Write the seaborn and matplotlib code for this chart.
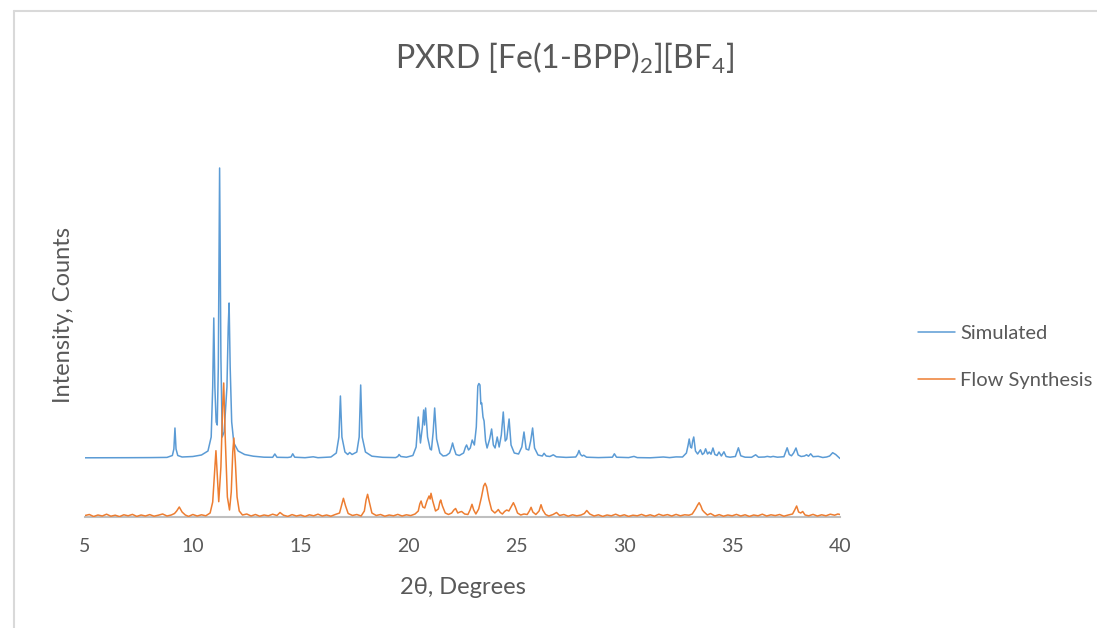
import pandas as pd
import seaborn as sns
import matplotlib.pyplot as plt
from matplotlib.lines import Line2D

sim_2theta = [5.0, 6.0, 7.0, 8.0, 8.8, 9.05, 9.12, 9.17, 9.22, 9.3, 9.5, 10.0, 10.4, 10.7, 10.85, 10.92, 10.97,
              11.02, 11.08, 11.13, 11.18, 11.24, 11.3, 11.36, 11.45, 11.58, 11.64, 11.68, 11.73, 11.8, 11.9,
              12.1, 12.4, 12.8, 13.3, 13.7, 13.8, 13.9, 14.4, 14.55, 14.63, 14.72, 15.2, 15.58, 15.8, 16.4,
              16.65, 16.77, 16.84, 16.91, 17.05, 17.18, 17.27, 17.38, 17.6, 17.71, 17.78, 17.85, 18.0, 18.3,
              18.8, 19.4, 19.5, 19.56, 19.64, 19.9, 20.2, 20.35, 20.45, 20.55, 20.64, 20.7, 20.74, 20.79, 20.88,
              21.0, 21.06, 21.14, 21.21, 21.3, 21.45, 21.6, 21.75, 21.9, 21.98, 22.04, 22.1, 22.2, 22.35, 22.55,
              22.64, 22.69, 22.78, 22.86, 22.95, 23.05, 23.14, 23.21, 23.26, 23.31, 23.35, 23.39, 23.45, 23.5,
              23.57, 23.64, 23.76, 23.85, 23.93, 24.01, 24.11, 24.2, 24.3, 24.39, 24.48, 24.55, 24.6, 24.66,
              24.75, 24.9, 25.1, 25.25, 25.35, 25.45, 25.57, 25.66, 25.75, 25.84, 26.0, 26.2, 26.28, 26.38,
              26.55, 26.71, 26.85, 27.3, 27.75, 27.84, 27.9, 27.97, 28.05, 28.12, 28.25, 28.8, 29.45, 29.54,
              29.64, 30.2, 30.45, 30.6, 31.2, 31.81, 32.1, 32.4, 32.7, 32.88, 32.96, 33.01, 33.07, 33.12, 33.17,
              33.22, 33.3, 33.4, 33.53, 33.62, 33.7, 33.77, 33.86, 33.94, 34.02, 34.11, 34.2, 34.3, 34.39, 34.5,
              34.62, 34.72, 34.9, 35.15, 35.29, 35.4, 35.6, 35.9, 36.09, 36.22, 36.5, 36.63, 36.78, 36.9, 37.1,
              37.4, 37.55, 37.65, 37.75, 37.85, 37.96, 38.06, 38.2, 38.35, 38.45, 38.54, 38.64, 38.75, 38.99,
              39.2, 39.38, 39.52, 39.66, 39.8, 39.9, 40.0]
sim_counts = [592, 592, 593, 594, 596, 615, 680, 890, 680, 615, 600, 605, 620, 660, 800, 1300, 1990,
              1300, 950, 920, 1500, 3490, 1600, 800, 850, 1300, 1900, 2140, 1500, 950, 740,
              660, 625, 608, 598, 597, 630, 597, 595, 600, 632, 598, 593, 602, 593, 600,
              640, 800, 1210, 800, 650, 625, 645, 625, 650, 800, 1320, 800, 650, 608,
              597, 594, 605, 625, 605, 598, 615, 700, 1000, 740, 900, 1070, 920, 1090, 800,
              680, 670, 850, 1090, 780, 640, 610, 615, 640, 690, 740, 690, 625, 615, 640,
              700, 720, 670, 690, 770, 720, 900, 1310, 1335, 1320, 1130, 1140, 1000, 960,
              760, 690, 780, 880, 720, 690, 800, 700, 820, 1050, 760, 780, 870, 980,
              720, 640, 630, 700, 850, 680, 670, 760, 890, 690, 620, 610, 637, 610,
              605, 622, 602, 596, 600, 630, 665, 625, 610, 618, 598, 594, 598, 632,
              598, 594, 606, 594, 592, 600, 594, 601, 600, 640, 720, 780, 700, 690, 760,
              800, 660, 630, 672, 625, 640, 682, 630, 650, 628, 690, 625, 615, 650, 610,
              652, 605, 598, 605, 692, 612, 598, 597, 622, 598, 600, 606, 600, 606, 598,
              603, 692, 625, 612, 640, 690, 620, 605, 610, 622, 608, 632, 603, 607,
              595, 600, 610, 643, 625, 605, 585]

# flow synthesis sample (measured)
flow_2theta = [5.0, 5.2, 5.4, 5.6, 5.8, 6.0, 6.2, 6.4, 6.6, 6.8, 7.0, 7.2, 7.4, 7.6, 7.8, 8.0, 8.2, 8.4, 8.6,
               8.8, 9.0, 9.15, 9.25, 9.37, 9.5, 9.65, 9.8, 10.0, 10.2, 10.4, 10.6, 10.8, 10.92, 11.0, 11.07,
               11.13, 11.2, 11.3, 11.38, 11.43, 11.5, 11.6, 11.7, 11.78, 11.85, 11.9, 11.97, 12.05, 12.15,
               12.3, 12.5, 12.7, 12.9, 13.1, 13.3, 13.5, 13.7, 13.9, 14.04, 14.2, 14.4, 14.6, 14.8, 15.0, 15.2,
               15.4, 15.6, 15.8, 16.0, 16.2, 16.4, 16.6, 16.8, 16.9, 16.98, 17.08, 17.2, 17.4, 17.6, 17.8,
               17.95, 18.03, 18.1, 18.18, 18.3, 18.5, 18.7, 18.9, 19.1, 19.3, 19.5, 19.7, 19.9, 20.1, 20.3,
               20.45, 20.52, 20.58, 20.66, 20.75, 20.85, 20.95, 21.0, 21.04, 21.12, 21.25, 21.38, 21.45, 21.49,
               21.57, 21.7, 21.85, 22.0, 22.1, 22.18, 22.28, 22.38, 22.46, 22.6, 22.75, 22.85, 22.94, 23.02,
               23.12, 23.25, 23.38, 23.48, 23.55, 23.62, 23.72, 23.85, 24.0, 24.1, 24.16, 24.25, 24.35, 24.45,
               24.55, 24.65, 24.75, 24.86, 24.95, 25.05, 25.2, 25.35, 25.5, 25.6, 25.68, 25.76, 25.9, 26.05,
               26.14, 26.22, 26.35, 26.5, 26.7, 26.86, 27.0, 27.2, 27.4, 27.6, 27.8, 28.0, 28.15, 28.26, 28.4,
               28.6, 28.8, 29.0, 29.2, 29.4, 29.6, 29.8, 30.0, 30.2, 30.4, 30.6, 30.8, 31.0, 31.2, 31.4, 31.6,
               31.8, 32.0, 32.2, 32.4, 32.6, 32.8, 33.0, 33.15, 33.3, 33.4, 33.47, 33.55, 33.62, 33.7, 33.85,
               34.0, 34.2, 34.4, 34.6, 34.8, 35.0, 35.2, 35.4, 35.6, 35.8, 36.0, 36.2, 36.4, 36.6, 36.8, 37.0,
               37.2, 37.4, 37.6, 37.8, 37.9, 37.99, 38.08, 38.18, 38.27, 38.38, 38.55, 38.75, 38.95, 39.15,
               39.35, 39.55, 39.75, 39.9, 40.0]
flow_counts = [15, 25, 5, 20, 10, 28, 8, 18, 4, 22, 12, 26, 6, 20, 10, 24, 8, 18, 30,
               10, 20, 35, 60, 100, 50, 20, 6, 25, 10, 22, 12, 40, 150, 420, 663,
               420, 153, 500, 1100, 1340, 800, 200, 70, 250, 650, 790, 550, 200, 60,
               20, 30, 10, 25, 8, 20, 12, 28, 15, 45, 18, 6, 24, 10, 20, 5,
               22, 12, 28, 10, 20, 8, 25, 40, 120, 187, 110, 35, 15, 25, 10,
               60, 170, 227, 150, 40, 15, 25, 8, 20, 12, 26, 10, 22, 14, 30,
               60, 130, 160, 100, 90, 160, 210, 180, 237, 160, 60, 80, 150, 170,
               110, 40, 25, 40, 70, 85, 40, 50, 55, 30, 25, 70, 127, 70,
               30, 80, 200, 310, 337, 300, 180, 70, 40, 60, 75, 45, 30, 55,
               70, 60, 100, 143, 100, 40, 20, 30, 25, 60, 97, 50, 25, 60,
               123, 70, 25, 10, 25, 45, 15, 25, 8, 22, 12, 20, 35, 65, 30,
               10, 22, 6, 20, 12, 28, 10, 22, 6, 18, 12, 26, 10, 22, 8, 28,
               14, 24, 10, 26, 12, 22, 18, 30, 80, 120, 143, 110, 70, 50, 20,
               35, 10, 24, 8, 20, 12, 26, 10, 22, 6, 20, 12, 28, 10, 22, 14,
               25, 8, 20, 30, 70, 110, 50, 40, 55, 20, 12, 26, 10, 22,
               12, 28, 18, 30, 25]

series_names = ["Simulated", "Flow Synthesis"]
series_colors = ["#5b9bd5", "#ed7d31"]
x_ticks = [5, 10, 15, 20, 25, 30, 35, 40]

df = pd.concat([
    pd.DataFrame({"2theta": sim_2theta, "counts": sim_counts, "series": series_names[0]}),
    pd.DataFrame({"2theta": flow_2theta, "counts": flow_counts, "series": series_names[1]}),
])

sns.set_style("white")
plt.rcParams["font.family"] = ["Lato", "DejaVu Sans"]
plt.rcParams["mathtext.fontset"] = "custom"
plt.rcParams["mathtext.rm"] = "Lato"
plt.rcParams["mathtext.it"] = "Lato:italic"
grey = "#595959"

fig = plt.figure(figsize=(10.97, 6.28), dpi=100)
ax = fig.add_axes([85 / 1097, 111 / 628, 755 / 1097, 417 / 628])

sns.lineplot(data=df, x="2theta", y="counts", hue="series", palette=series_colors,
             estimator=None, sort=False, linewidth=1.1, legend=False, ax=ax, zorder=3)

ax.set_xlim(5, 40)
ax.set_ylim(0, 4170)
ax.set_xticks(x_ticks)
ax.set_xticklabels([str(t) for t in x_ticks])
ax.set_yticks([])
ax.tick_params(axis="x", length=0, pad=15, labelsize=14, labelcolor=grey)
for side in ["left", "right", "top"]:
    ax.spines[side].set_visible(False)
ax.spines["bottom"].set_color("#bfbfbf")
ax.spines["bottom"].set_linewidth(1.5)

ax.set_xlabel("2θ, Degrees", fontsize=17, color=grey, labelpad=16)
ax.set_ylabel("Intensity, Counts", fontsize=17, color=grey)
ax.yaxis.set_label_coords(-0.015, 0.484)

fig.text(565 / 1097, 1 - 58 / 628, r"PXRD [Fe(1-BPP)$_2$][BF$_4$]",
         ha="center", va="center", fontsize=23, color=grey)

handles = [Line2D([], [], color=c, linewidth=1.1) for c in series_colors]
leg = fig.legend(handles, series_names, loc="center left", frameon=False,
                 bbox_to_anchor=(908 / 1097, 1 - 357 / 628), fontsize=14.5,
                 handlelength=1.85, handletextpad=0.25, labelspacing=1.45, borderpad=0)
for t in leg.get_texts():
    t.set_color(grey)

# chart area border (light grey frame, runs off the right and bottom edges)
fig.add_artist(Line2D([14 / 1097, 14 / 1097], [0, 1 - 11 / 628], color="#d9d9d9", linewidth=1.5))
fig.add_artist(Line2D([14 / 1097, 1], [1 - 11 / 628, 1 - 11 / 628], color="#d9d9d9", linewidth=1.5))

plt.savefig("out.png", dpi=100)
